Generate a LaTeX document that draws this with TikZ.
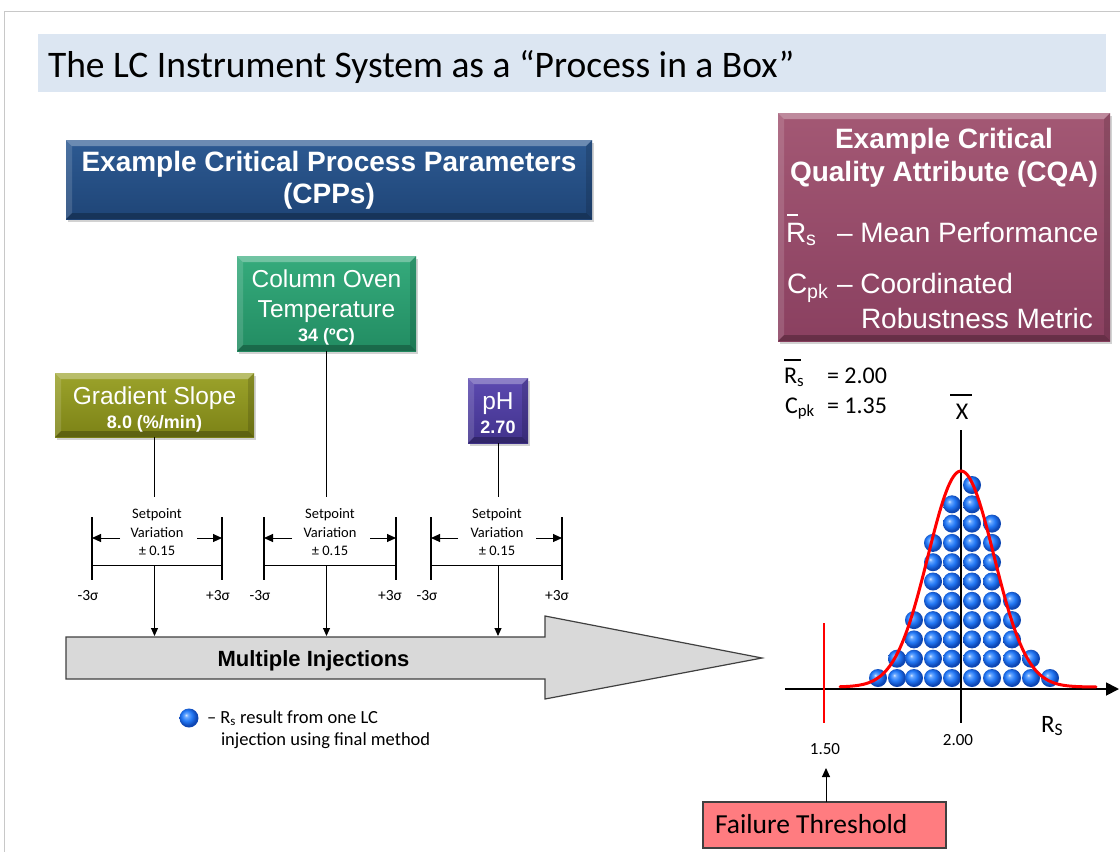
\documentclass[tikz,border=0pt]{standalone}
\usepackage{fontspec}
\setmainfont{Carlito}
\newfontfamily\arialfont{Liberation Sans}
\usetikzlibrary{arrows.meta,shadows}
\newcommand\setfs[2]{\fontsize{#1}{#2}\selectfont}

\definecolor{titlebg}{HTML}{DCE6F2}
\definecolor{framegrey}{HTML}{C8C8C8}
\definecolor{cppA}{HTML}{2D5A92}
\definecolor{cppB}{HTML}{1F4577}
\definecolor{ovenA}{HTML}{35AB7C}
\definecolor{ovenB}{HTML}{228C62}
\definecolor{slopeA}{HTML}{9CA32B}
\definecolor{slopeB}{HTML}{7C8216}
\definecolor{phA}{HTML}{5C4AB0}
\definecolor{phB}{HTML}{41328C}
\definecolor{cqaA}{HTML}{A35874}
\definecolor{cqaB}{HTML}{8A4060}
\definecolor{arrowgrey}{HTML}{D9D9D9}
\definecolor{edgegrey}{HTML}{404040}
\definecolor{failfill}{HTML}{FF7C80}
\definecolor{ballhl}{HTML}{D6E7FF}
\definecolor{ballsoft}{HTML}{6AA8FF}
\definecolor{ballmid}{HTML}{2479F5}
\definecolor{balledge}{HTML}{0E47B4}

% glossy sphere used for every injection result
\pgfdeclareradialshading{injsphere}{\pgfqpoint{-8bp}{8bp}}{%
  color(0bp)=(ballhl); color(5bp)=(ballsoft); color(14bp)=(ballmid);
  color(24bp)=(balledge); color(50bp)=(balledge)}

\tikzset{
  bevel/.style={path picture={
    \fill[white,opacity=0.30] (path picture bounding box.north west) -- (path picture bounding box.north east)
      -- ([shift={(-6pt,-6pt)}]path picture bounding box.north east) -- ([shift={(6pt,-6pt)}]path picture bounding box.north west) -- cycle;
    \fill[white,opacity=0.14] (path picture bounding box.north west) -- ([shift={(6pt,-6pt)}]path picture bounding box.north west)
      -- ([shift={(6pt,6pt)}]path picture bounding box.south west) -- (path picture bounding box.south west) -- cycle;
    \fill[black,opacity=0.25] (path picture bounding box.south west) -- ([shift={(6pt,6pt)}]path picture bounding box.south west)
      -- ([shift={(-6pt,6pt)}]path picture bounding box.south east) -- (path picture bounding box.south east) -- cycle;
    \fill[black,opacity=0.14] (path picture bounding box.north east) -- (path picture bounding box.south east)
      -- ([shift={(-6pt,6pt)}]path picture bounding box.south east) -- ([shift={(-6pt,-6pt)}]path picture bounding box.north east) -- cycle;
  }},
  slab/.style={bevel, drop shadow={shadow xshift=1.5pt,shadow yshift=-2.5pt,opacity=0.35}},
  boxhead/.style={anchor=base, text=white, font=\arialfont\bfseries\setfs{28}{32}},
  boxname/.style={anchor=base, text=white, font=\arialfont\setfs{24.5}{29}},
  boxvalue/.style={anchor=base, text=white, font=\arialfont\bfseries\setfs{18}{21}},
  cqaline/.style={anchor=base west, text=white, font=\arialfont\setfs{28}{32}},
  setpt/.style={anchor=base, font=\setfs{14.5}{17}},
  sigma/.style={anchor=base, font=\setfs{15.5}{18}},
  stat/.style={anchor=base west, font=\setfs{24}{28}},
  ticklbl/.style={anchor=base, font=\setfs{17}{20}},
  thinline/.style={line width=1pt},
  bar/.style={line width=2.6pt},
  tip/.style={-{Triangle[length=9pt,width=8pt]}},
  injball/.style={shading=injsphere}
}

\begin{document}
\begin{tikzpicture}[x=1pt,y=-1pt,every node/.style={inner sep=0pt,outer sep=0pt}]
\useasboundingbox (0,0) rectangle (1120,852);
\fill[white] (0,0) rectangle (1120,852);

% slide frame
\draw[framegrey,line width=1pt] (4.5,852) -- (4.5,11.5) -- (1120,11.5);

% title bar
\node[fill=titlebg,minimum width=1068,minimum height=58,anchor=north west] (titlebar) at (38,34) {};
\node[anchor=base west,font=\setfs{37.5}{44}] (titletext) at (48,77) {The LC Instrument System as a “Process in a Box”};

% critical process parameters
\node[slab,top color=cppA,bottom color=cppB,minimum width=526,minimum height=79] (cpp) at (329,179.5) {};
\node[boxhead] (cpp1) at (329,171) {Example Critical Process Parameters};
\node[boxhead] (cpp2) at (329,203) {(CPPs)};

\node[slab,top color=ovenA,bottom color=ovenB,minimum width=179,minimum height=95] (oven) at (326.5,303.5) {};
\node[boxname] (oven1) at (326.5,287) {Column Oven};
\node[boxname] (oven2) at (326.5,317) {Temperature};
\node[boxvalue] (oven3) at (326.5,341) {34 (ºC)};

\node[slab,top color=slopeA,bottom color=slopeB,minimum width=199,minimum height=64] (slope) at (154.5,405) {};
\node[boxname] (slope1) at (154.5,404) {Gradient Slope};
\node[boxvalue] (slope2) at (154.5,428) {8.0 (\%/min)};

\node[slab,top color=phA,bottom color=phB,minimum width=60,minimum height=65] (ph) at (498,410.5) {};
\node[boxname] (ph1) at (498,409) {pH};
\node[boxvalue] (ph2) at (498,433) {2.70};

% setpoint variation scales
\foreach \n/\L/\R/\T/\la/\ra/\m/\p in {1/92/222/157/120/197/88/218, 2/264/396/330/292/370/260/390, 3/431/562/497/458/536/427/557}{
  \draw[bar] (\L,517) -- (\L,580);
  \draw[bar] (\R,517) -- (\R,580);
  \draw[thinline] (\L,565) -- (\R,565);
  \draw[thinline,tip] (\la,538) -- (\L,538);
  \draw[thinline,tip] (\ra,538) -- (\R,538);
  \node[setpt] (spa\n) at (\T,518) {Setpoint};
  \node[setpt] (spb\n) at (\T,537) {Variation};
  \node[setpt] (spc\n) at (\T,555) {± 0.15};
  \node[sigma] (lo\n) at (\m,600) {-3σ};
  \node[sigma] (hi\n) at (\p,600) {+3σ};
}

% injections arrow
\draw[fill=arrowgrey,draw=edgegrey,line width=1.2pt]
  (66,637) -- (545,637) -- (545,616) -- (762,658) -- (545,699) -- (545,679) -- (66,679) -- cycle;
\node[anchor=base,font=\arialfont\bfseries\setfs{22}{26}] (inj) at (313.5,666) {Multiple Injections};

% parameter stems into the scales and on into the injections arrow
\coordinate (stemend) at (0,497);
\coordinate (bline) at (0,565);
\coordinate (injtop) at (0,636);
\foreach \b/\n in {slope/1,oven/2,ph/3}{
  \coordinate (h\n) at (\b.south |- bline);
  \draw[thinline] (\b.south) -- (\b.south |- stemend);
  \draw[thinline,-{Triangle[length=8pt,width=7pt]}] (h\n) -- (h\n |- injtop);
}

% legend
\shade[injball] (189,718) circle[radius=9.5pt];
\node[anchor=base west,font=\setfs{18.5}{22}] (leg1) at (207,723) {– R\textsubscript{s} result from one LC};
\node[anchor=base west,font=\setfs{18.5}{22}] (leg2) at (221,745) {injection using final method};

% critical quality attribute
\node[slab,top color=cqaA,bottom color=cqaB,minimum width=332,minimum height=228] (cqa) at (944,227) {};
\node[boxhead] (cqa1) at (944,148) {Example Critical};
\node[boxhead] (cqa2) at (944,181) {Quality Attribute (CQA)};
\node[cqaline] (cqa3) at (786,242) {R\textsubscript{s}};
\draw[white,line width=1.5pt] (787,215) -- (798,215);
\node[cqaline] (cqa4) at (837,242) {– Mean Performance};
\node[cqaline] (cqa5) at (787,293) {C\textsubscript{pk}};
\node[cqaline] (cqa6) at (837,293) {– Coordinated};
\node[cqaline] (cqa7) at (861,328) {Robustness Metric};

% summary statistics
\node[stat] (rsbar) at (784,383) {R\textsubscript{s}};
\draw[line width=1.3pt] (784,360) -- (801,360);
\node[stat] (rsval) at (827,383) {= 2.00};
\node[stat] (cpk) at (785,413) {C\textsubscript{pk}};
\node[stat] (cpkval) at (827,413) {= 1.35};
\node[anchor=base,font=\setfs{24}{28}] (xbar) at (962,419) {X};
\draw[line width=1.3pt] (950,395) -- (972,395);

% distribution of injection results
\foreach \x/\h in {878/1,897/2,914/4,933/8,952/10,972/11,992/9,1012/5,1031/2,1050/1}{
  \foreach \k in {1,...,\h}{
    \shade[injball] (\x,{678-19.3*(\k-1)}) circle[radius=9pt];
  }
}
\coordinate (xl) at (785,689);
\coordinate (xr) at (1119,689);
\draw[line width=1.8pt,-{Triangle[length=13pt,width=13pt]}] (xl) -- (xr);
\coordinate (mtop) at (961,430);
\coordinate (mbot) at (961,723);
\draw[line width=2pt] (mtop) -- (mbot);
\draw[red,line width=3pt,line cap=round] plot[domain=-121:135,samples=150]
  ({961+\x},{687-216*exp(-0.5*(\x/33)^2)});
\coordinate (ftop) at (824,623);
\coordinate (fbot) at (824,723);
\draw[red,line width=2.5pt] (ftop) -- (fbot);
\node[ticklbl] (t200) at (958,745) {2.00};
\node[ticklbl] (t150) at (825,754) {1.50};
\node[anchor=base west,font=\setfs{25}{29}] (rsaxis) at (1041,732) {R\textsubscript{S}};

% failure threshold
\node[fill=failfill,draw=edgegrey,line width=1.2pt,minimum width=243,minimum height=46] (fail) at (824.5,825) {};
\node[anchor=base west,font=\setfs{27.5}{32}] (failtext) at (715,833) {Failure Threshold};
\coordinate (failtip) at (826,768);
\draw[thinline,-{Triangle[length=9pt,width=8pt]}] (fail.north -| failtip) -- (failtip);
\end{tikzpicture}
\end{document}
